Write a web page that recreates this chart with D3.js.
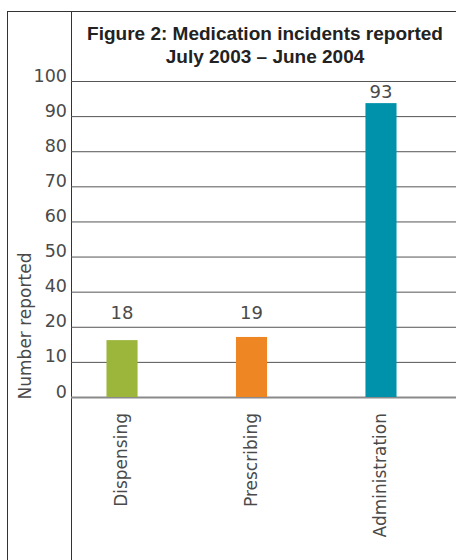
<!DOCTYPE html>
<html>
<head>
<meta charset="utf-8">
<script src="https://cdn.jsdelivr.net/npm/d3@7"></script>
<style>
  body { margin: 0; background: #fff; }
  text { font-family: "DejaVu Sans", "Liberation Sans", sans-serif; }
  .title { font-family: "Liberation Sans", Arial, sans-serif; font-weight: bold; }
</style>
</head>
<body>
<div id="chart"></div>
<script>
// data
const categories = ["Dispensing", "Prescribing", "Administration"];
const values = [18, 19, 93];
const barColors = ["#9cb53b", "#ee8624", "#0091ab"];
// the printed axis skips 30: ten evenly spaced gridlines
const yTickLabels = ["0", "10", "20", "40", "50", "60", "70", "80", "90", "100"];
const titleLines = ["Figure 2: Medication incidents reported", "July 2003 \u2013 June 2004"];

const width = 456, height = 560;
const plot = { left: 71, right: 456, top: 81, bottom: 397 };
const textColor = "#4a4a4a";

const svg = d3.select("#chart")
    .append("svg")
    .attr("width", width)
    .attr("height", height);

// frame
svg.append("line")
    .attr("x1", 7).attr("x2", width)
    .attr("y1", 11.5).attr("y2", 11.5)
    .attr("stroke", "#333").attr("stroke-width", 1);
svg.append("line")
    .attr("x1", 7.5).attr("x2", 7.5)
    .attr("y1", 11).attr("y2", height)
    .attr("stroke", "#333").attr("stroke-width", 1);
svg.append("line")
    .attr("x1", plot.left + 0.5).attr("x2", plot.left + 0.5)
    .attr("y1", 11).attr("y2", height)
    .attr("stroke", "#333").attr("stroke-width", 1);

// scales
const x = d3.scaleBand()
    .domain(categories)
    .range([plot.left, 432])
    .paddingInner(0.76)
    .paddingOuter(0.274);

const y = d3.scaleLinear()
    .domain([0, 100])
    .range([plot.bottom, plot.top]);

const yGrid = d3.scalePoint()
    .domain(yTickLabels)
    .range([plot.bottom, plot.top]);

// gridlines + tick labels
const yAxis = d3.axisLeft(yGrid)
    .tickSize(-(plot.right - plot.left))
    .tickPadding(4);

const gy = svg.append("g")
    .attr("transform", `translate(${plot.left},0)`)
    .call(yAxis);
gy.select(".domain").remove();
gy.selectAll(".tick line")
    .attr("stroke", d => d === "0" ? "#8a8a8a" : "#555")
    .attr("stroke-width", d => d === "0" ? 2 : 1);
gy.selectAll(".tick text")
    .attr("dy", 0)
    .attr("fill", textColor)
    .style("font-size", "17.5px");

// y axis title
svg.append("text")
    .attr("transform", "rotate(-90)")
    .attr("x", -326)
    .attr("y", 31)
    .attr("text-anchor", "middle")
    .attr("fill", textColor)
    .style("font-size", "17px")
    .text("Number reported");

// bars
svg.append("g")
    .selectAll("rect")
    .data(categories)
    .join("rect")
    .attr("x", d => x(d))
    .attr("width", x.bandwidth())
    .attr("y", (d, i) => y(values[i]))
    .attr("height", (d, i) => y(0) - y(values[i]))
    .attr("fill", (d, i) => barColors[i]);

// value labels, kept above the "20" gridline
svg.append("g")
    .selectAll("text")
    .data(categories)
    .join("text")
    .attr("x", d => x(d) + x.bandwidth() / 2)
    .attr("y", (d, i) => Math.min(y(values[i]) - 5, yGrid("20") - 8))
    .attr("text-anchor", "middle")
    .attr("fill", textColor)
    .style("font-size", "18px")
    .text((d, i) => values[i]);

// category labels (rotated)
svg.append("g")
    .selectAll("text")
    .data(categories)
    .join("text")
    .attr("transform", d => `translate(${x(d) + x.bandwidth() / 2 + 5},413) rotate(-90)`)
    .attr("text-anchor", "end")
    .attr("fill", textColor)
    .style("font-size", "17px")
    .text(d => d);

// title
svg.append("g")
    .selectAll("text")
    .data(titleLines)
    .join("text")
    .attr("class", "title")
    .attr("x", 265)
    .attr("y", (d, i) => 40 + i * 23)
    .attr("text-anchor", "middle")
    .attr("fill", "#222")
    .style("font-size", "19px")
    .text(d => d);
</script>
</body>
</html>
